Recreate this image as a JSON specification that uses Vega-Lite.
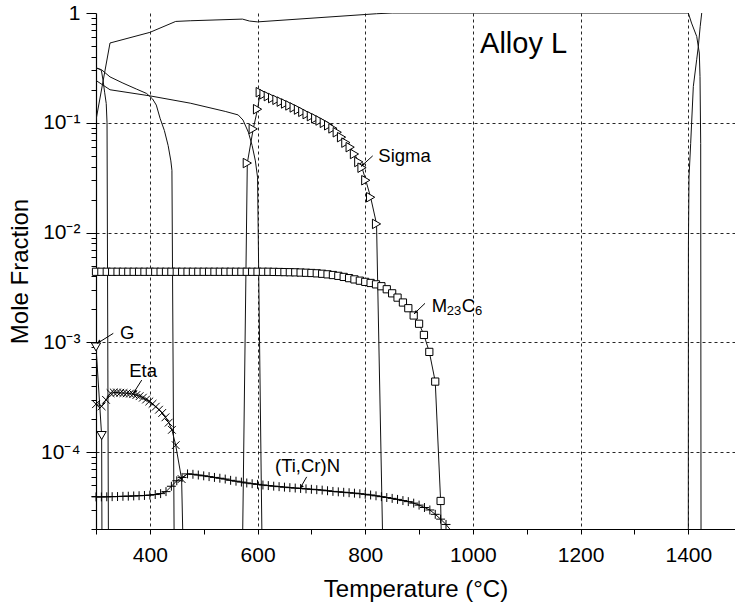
{
  "$schema": "https://vega.github.io/schema/vega-lite/v6.json",
  "width": 639,
  "height": 516,
  "autosize": {"type": "none"},
  "padding": {"left": 96, "top": 13, "right": 0, "bottom": 78},
  "background": "white",
  "config": {
    "view": {"stroke": null},
    "font": "Liberation Sans",
    "axis": {"ticks": true, "tickColor": "black", "tickWidth": 1, "tickSize": 5, "domainColor": "black", "domainWidth": 1.2, "labelColor": "black", "titleColor": "black", "titleFontWeight": "normal"}
  },
  "datasets": {
    "curves": [
      {"p":"FCC","T":300,"f":0.106},{"p":"FCC","T":326,"f":0.533},{"p":"FCC","T":400,"f":0.666},{"p":"FCC","T":448,"f":0.838},{"p":"FCC","T":475,"f":0.85},{"p":"FCC","T":572,"f":0.88},{"p":"FCC","T":585,"f":0.845},{"p":"FCC","T":600,"f":0.83},{"p":"FCC","T":821,"f":0.985},{"p":"FCC","T":850,"f":1},{"p":"FCC","T":1400,"f":1},{"p":"FCC","T":1406,"f":0.81},{"p":"FCC","T":1415.6,"f":0.612},{"p":"FCC","T":1420.4,"f":0.432},{"p":"FCC","T":1421.7,"f":0.264},{"p":"FCC","T":1423,"f":0.065},{"p":"FCC","T":1423.6,"f":2e-5},
      {"p":"Liquid","T":1400,"f":2e-5},{"p":"Liquid","T":1400.2,"f":0.0079},{"p":"Liquid","T":1401.3,"f":0.032},{"p":"Liquid","T":1404.4,"f":0.065},{"p":"Liquid","T":1409.3,"f":0.214},{"p":"Liquid","T":1415.5,"f":0.375},{"p":"Liquid","T":1418.6,"f":0.496},{"p":"Liquid","T":1422,"f":0.75},{"p":"Liquid","T":1424.9,"f":1},
      {"p":"P1","T":300,"f":0.315},{"p":"P1","T":304,"f":0.313},{"p":"P1","T":310,"f":0.3},{"p":"P1","T":313,"f":0.245},{"p":"P1","T":316,"f":0.19},{"p":"P1","T":319,"f":0.15},{"p":"P1","T":320.5,"f":0.1},{"p":"P1","T":323,"f":2e-5},
      {"p":"P2","T":300,"f":0.315},{"p":"P2","T":310,"f":0.305},{"p":"P2","T":326,"f":0.262},{"p":"P2","T":350,"f":0.23},{"p":"P2","T":375,"f":0.203},{"p":"P2","T":394,"f":0.185},{"p":"P2","T":405,"f":0.165},{"p":"P2","T":412,"f":0.145},{"p":"P2","T":419,"f":0.11},{"p":"P2","T":427,"f":0.085},{"p":"P2","T":434,"f":0.062},{"p":"P2","T":439,"f":0.045},{"p":"P2","T":441,"f":0.037},{"p":"P2","T":445,"f":2e-5},
      {"p":"P3","T":300,"f":0.243},{"p":"P3","T":326,"f":0.2},{"p":"P3","T":400,"f":0.176},{"p":"P3","T":475,"f":0.151},{"p":"P3","T":540,"f":0.127},{"p":"P3","T":564,"f":0.118},{"p":"P3","T":573,"f":0.106},{"p":"P3","T":583,"f":0.082},{"p":"P3","T":590,"f":0.062},{"p":"P3","T":596,"f":0.045},{"p":"P3","T":600,"f":0.032},{"p":"P3","T":608,"f":2e-5},
      {"p":"G","T":300,"f":0.00091},{"p":"G","T":310.5,"f":0.000142},{"p":"G","T":311,"f":2e-5},
      {"p":"Sigma","T":572.5,"f":2e-5},{"p":"Sigma","T":581,"f":0.043},{"p":"Sigma","T":592,"f":0.088},{"p":"Sigma","T":600,"f":0.133},{"p":"Sigma","T":605,"f":0.19},{"p":"Sigma","T":612,"f":0.182},{"p":"Sigma","T":620,"f":0.175},{"p":"Sigma","T":628,"f":0.168},{"p":"Sigma","T":636,"f":0.162},{"p":"Sigma","T":644,"f":0.156},{"p":"Sigma","T":652,"f":0.15},{"p":"Sigma","T":660,"f":0.144},{"p":"Sigma","T":668,"f":0.138},{"p":"Sigma","T":676,"f":0.132},{"p":"Sigma","T":684,"f":0.126},{"p":"Sigma","T":692,"f":0.12},{"p":"Sigma","T":700,"f":0.115},{"p":"Sigma","T":708,"f":0.11},{"p":"Sigma","T":716,"f":0.105},{"p":"Sigma","T":724,"f":0.1},{"p":"Sigma","T":732,"f":0.095},{"p":"Sigma","T":740,"f":0.089},{"p":"Sigma","T":748,"f":0.082},{"p":"Sigma","T":756,"f":0.074},{"p":"Sigma","T":764,"f":0.066},{"p":"Sigma","T":772,"f":0.06},{"p":"Sigma","T":780,"f":0.052},{"p":"Sigma","T":788,"f":0.044},{"p":"Sigma","T":794,"f":0.039},{"p":"Sigma","T":801,"f":0.03},{"p":"Sigma","T":810,"f":0.021},{"p":"Sigma","T":821,"f":0.012},{"p":"Sigma","T":832,"f":2e-5},
      {"p":"M23C6","T":300,"f":0.0044},{"p":"M23C6","T":310,"f":0.0044},{"p":"M23C6","T":320,"f":0.0044},{"p":"M23C6","T":330,"f":0.0044},{"p":"M23C6","T":340,"f":0.0044},{"p":"M23C6","T":350,"f":0.0044},{"p":"M23C6","T":360,"f":0.0044},{"p":"M23C6","T":370,"f":0.0044},{"p":"M23C6","T":380,"f":0.0044},{"p":"M23C6","T":390,"f":0.0044},{"p":"M23C6","T":400,"f":0.0044},{"p":"M23C6","T":410,"f":0.0044},{"p":"M23C6","T":420,"f":0.0044},{"p":"M23C6","T":430,"f":0.0044},{"p":"M23C6","T":440,"f":0.0044},{"p":"M23C6","T":450,"f":0.0044},{"p":"M23C6","T":460,"f":0.0044},{"p":"M23C6","T":470,"f":0.0044},{"p":"M23C6","T":480,"f":0.0044},{"p":"M23C6","T":490,"f":0.0044},{"p":"M23C6","T":500,"f":0.0044},{"p":"M23C6","T":510,"f":0.0044},{"p":"M23C6","T":520,"f":0.0044},{"p":"M23C6","T":530,"f":0.0044},{"p":"M23C6","T":540,"f":0.0044},{"p":"M23C6","T":550,"f":0.0044},{"p":"M23C6","T":560,"f":0.0044},{"p":"M23C6","T":570,"f":0.0044},{"p":"M23C6","T":580,"f":0.0044},{"p":"M23C6","T":590,"f":0.0044},{"p":"M23C6","T":600,"f":0.0044},{"p":"M23C6","T":610,"f":0.0044},{"p":"M23C6","T":620,"f":0.0044},{"p":"M23C6","T":630,"f":0.00439},{"p":"M23C6","T":640,"f":0.00438},{"p":"M23C6","T":650,"f":0.00437},{"p":"M23C6","T":660,"f":0.00436},{"p":"M23C6","T":670,"f":0.00435},{"p":"M23C6","T":680,"f":0.00433},{"p":"M23C6","T":690,"f":0.00431},{"p":"M23C6","T":700,"f":0.00429},{"p":"M23C6","T":710,"f":0.00426},{"p":"M23C6","T":720,"f":0.00422},{"p":"M23C6","T":730,"f":0.00417},{"p":"M23C6","T":740,"f":0.00411},{"p":"M23C6","T":750,"f":0.00404},{"p":"M23C6","T":760,"f":0.00395},{"p":"M23C6","T":770,"f":0.00385},{"p":"M23C6","T":780,"f":0.00375},{"p":"M23C6","T":790,"f":0.00365},{"p":"M23C6","T":800,"f":0.00356},{"p":"M23C6","T":810,"f":0.00348},{"p":"M23C6","T":820,"f":0.00338},{"p":"M23C6","T":830,"f":0.00325},{"p":"M23C6","T":840,"f":0.00305},{"p":"M23C6","T":850,"f":0.0028},{"p":"M23C6","T":860,"f":0.00256},{"p":"M23C6","T":870,"f":0.00231},{"p":"M23C6","T":880,"f":0.00205},{"p":"M23C6","T":890,"f":0.00176},{"p":"M23C6","T":900,"f":0.00148},{"p":"M23C6","T":909,"f":0.00117},{"p":"M23C6","T":919,"f":0.00082},{"p":"M23C6","T":930,"f":0.00044},{"p":"M23C6","T":940,"f":0.000036},{"p":"M23C6","T":941,"f":2e-5},
      {"p":"Eta","T":300,"f":0.000274},{"p":"Eta","T":310.5,"f":0.000262},{"p":"Eta","T":318.6,"f":0.0003},{"p":"Eta","T":327,"f":0.000345},{"p":"Eta","T":333,"f":0.00035},{"p":"Eta","T":339,"f":0.00035},{"p":"Eta","T":345,"f":0.000348},{"p":"Eta","T":351,"f":0.000346},{"p":"Eta","T":357,"f":0.000344},{"p":"Eta","T":363,"f":0.000342},{"p":"Eta","T":369,"f":0.000338},{"p":"Eta","T":375,"f":0.000332},{"p":"Eta","T":381,"f":0.000324},{"p":"Eta","T":387,"f":0.000314},{"p":"Eta","T":393,"f":0.000302},{"p":"Eta","T":399,"f":0.00029},{"p":"Eta","T":405,"f":0.000276},{"p":"Eta","T":411,"f":0.00026},{"p":"Eta","T":417,"f":0.000244},{"p":"Eta","T":423,"f":0.000228},{"p":"Eta","T":429,"f":0.000208},{"p":"Eta","T":435,"f":0.000186},{"p":"Eta","T":441,"f":0.00016},{"p":"Eta","T":448,"f":0.000116},{"p":"Eta","T":459,"f":0.000057},{"p":"Eta","T":461,"f":2e-5},
      {"p":"TiCrN","T":300,"f":3.92e-5},{"p":"TiCrN","T":310,"f":3.92e-5},{"p":"TiCrN","T":320,"f":3.93e-5},{"p":"TiCrN","T":330,"f":3.94e-5},{"p":"TiCrN","T":340,"f":3.95e-5},{"p":"TiCrN","T":350,"f":3.97e-5},{"p":"TiCrN","T":360,"f":3.98e-5},{"p":"TiCrN","T":370,"f":4.0e-5},{"p":"TiCrN","T":380,"f":4.02e-5},{"p":"TiCrN","T":390,"f":4.04e-5},{"p":"TiCrN","T":400,"f":4.07e-5},{"p":"TiCrN","T":410,"f":4.12e-5},{"p":"TiCrN","T":420,"f":4.2e-5},{"p":"TiCrN","T":430,"f":4.38e-5},{"p":"TiCrN","T":440,"f":4.9e-5},{"p":"TiCrN","T":450,"f":5.5e-5},{"p":"TiCrN","T":460,"f":5.9e-5},{"p":"TiCrN","T":470,"f":6.35e-5},{"p":"TiCrN","T":480,"f":6.3e-5},{"p":"TiCrN","T":490,"f":6.2e-5},{"p":"TiCrN","T":500,"f":6.1e-5},{"p":"TiCrN","T":510,"f":6.0e-5},{"p":"TiCrN","T":520,"f":5.9e-5},{"p":"TiCrN","T":530,"f":5.8e-5},{"p":"TiCrN","T":540,"f":5.7e-5},{"p":"TiCrN","T":550,"f":5.55e-5},{"p":"TiCrN","T":560,"f":5.45e-5},{"p":"TiCrN","T":570,"f":5.35e-5},{"p":"TiCrN","T":580,"f":5.25e-5},{"p":"TiCrN","T":590,"f":5.17e-5},{"p":"TiCrN","T":600,"f":5.1e-5},{"p":"TiCrN","T":610,"f":5.03e-5},{"p":"TiCrN","T":620,"f":4.97e-5},{"p":"TiCrN","T":630,"f":4.91e-5},{"p":"TiCrN","T":640,"f":4.86e-5},{"p":"TiCrN","T":650,"f":4.81e-5},{"p":"TiCrN","T":660,"f":4.76e-5},{"p":"TiCrN","T":670,"f":4.72e-5},{"p":"TiCrN","T":680,"f":4.68e-5},{"p":"TiCrN","T":690,"f":4.64e-5},{"p":"TiCrN","T":700,"f":4.6e-5},{"p":"TiCrN","T":710,"f":4.56e-5},{"p":"TiCrN","T":720,"f":4.52e-5},{"p":"TiCrN","T":730,"f":4.46e-5},{"p":"TiCrN","T":740,"f":4.4e-5},{"p":"TiCrN","T":750,"f":4.36e-5},{"p":"TiCrN","T":760,"f":4.32e-5},{"p":"TiCrN","T":770,"f":4.28e-5},{"p":"TiCrN","T":780,"f":4.24e-5},{"p":"TiCrN","T":790,"f":4.19e-5},{"p":"TiCrN","T":800,"f":4.14e-5},{"p":"TiCrN","T":810,"f":4.08e-5},{"p":"TiCrN","T":820,"f":4.01e-5},{"p":"TiCrN","T":830,"f":3.94e-5},{"p":"TiCrN","T":840,"f":3.87e-5},{"p":"TiCrN","T":850,"f":3.8e-5},{"p":"TiCrN","T":860,"f":3.72e-5},{"p":"TiCrN","T":870,"f":3.63e-5},{"p":"TiCrN","T":880,"f":3.55e-5},{"p":"TiCrN","T":890,"f":3.44e-5},{"p":"TiCrN","T":900,"f":3.3e-5},{"p":"TiCrN","T":910,"f":3.14e-5},{"p":"TiCrN","T":920,"f":2.98e-5},{"p":"TiCrN","T":930,"f":2.72e-5},{"p":"TiCrN","T":940,"f":2.46e-5},{"p":"TiCrN","T":950,"f":2.2e-5},{"p":"TiCrN","T":957,"f":2.0e-5}
    ],
    "arrows": [
      {"x1":813.9,"y1":0.05,"x2":792.1,"y2":0.04},
      {"x1":911,"y1":0.00227,"x2":890.6,"y2":0.00182},
      {"x1":384.9,"y1":0.000454,"x2":369.3,"y2":0.000344},
      {"x1":332.1,"y1":0.00121,"x2":302.4,"y2":0.00098},
      {"x1":691.3,"y1":5.97e-5,"x2":678.9,"y2":4.68e-5}
    ],
    "labels": [
      {"label":"Sigma","T":824.3,"f":0.0438},
      {"label":"M","T":923.4,"f":0.0019},
      {"label":"C","T":979.2,"f":0.0019},
      {"label":"Eta","T":361.8,"f":0.000487},
      {"label":"G","T":344.6,"f":0.00107},
      {"label":"(Ti,Cr)N","T":632.4,"f":6.63e-5}
    ],
    "subs": [
      {"label":"23","T":951.3,"f":0.00176},
      {"label":"6","T":1004,"f":0.00176}
    ],
    "title": [
      {"label":"Alloy L","T":1013.2,"f":0.432}
    ]
  },
  "layer": [
    {
      "data": {"name": "curves"},
      "mark": {"type": "line", "strokeWidth": 1, "color": "#111", "clip": true},
      "encoding": {
        "x": {
          "field": "T", "type": "quantitative",
          "scale": {"domain": [300, 1486.7], "nice": false, "zero": false},
          "axis": {
            "title": "Temperature (°C)",
            "values": [300,400,500,600,700,800,900,1000,1100,1200,1300,1400],
            "format": "d",
            "labelExpr": "datum.value % 200 == 0 ? datum.label : ''",
            "labelOverlap": false,
            "labelFlush": false,
            "labelFontSize": 21,
            "labelPadding": 10,
            "grid": true,
            "gridColor": "black",
            "gridDash": [3, 3],
            "gridOpacity": {"condition": {"test": "datum.value % 200 == 0", "value": 0.85}, "value": 0},
            "titleFontSize": 24,
            "titlePadding": 12
          }
        },
        "y": {
          "field": "f", "type": "quantitative",
          "scale": {"type": "log", "domain": [2e-5, 1], "nice": false},
          "axis": {
            "title": "Mole Fraction",
            "values": [2e-5,3e-5,4e-5,5e-5,6e-5,7e-5,8e-5,9e-5,1e-4,2e-4,3e-4,4e-4,5e-4,6e-4,7e-4,8e-4,9e-4,1e-3,2e-3,3e-3,4e-3,5e-3,6e-3,7e-3,8e-3,9e-3,1e-2,2e-2,3e-2,4e-2,5e-2,6e-2,7e-2,8e-2,9e-2,0.1,0.2,0.3,0.4,0.5,0.6,0.7,0.8,0.9,1],
            "labelExpr": "datum.value > 0.999 ? '1' : (abs(log(datum.value)/LN10 - round(log(datum.value)/LN10)) < 1e-6 ? '10⁻' + ['','¹','²','³','⁴','⁵'][-round(log(datum.value)/LN10)] : '')",
            "labelOverlap": false,
            "labelFlush": false,
            "labelFontSize": 21,
            "labelPadding": 6,
            "labelBaseline": "middle",
            "tickSize": {"condition": {"test": "abs(log(datum.value)/LN10 - round(log(datum.value)/LN10)) < 1e-6", "value": 10}, "value": 5},
            "grid": true,
            "gridColor": "black",
            "gridDash": [3, 3],
            "gridOpacity": {"condition": {"test": "datum.value < 0.999 && abs(log(datum.value)/LN10 - round(log(datum.value)/LN10)) < 1e-6", "value": 0.85}, "value": 0},
            "titleFontSize": 24,
            "titlePadding": 8
          }
        },
        "detail": {"field": "p"}
      }
    },
    {
      "mark": {"type": "rule", "color": "black", "strokeWidth": 1.2},
      "encoding": {"y": {"datum": 1, "type": "quantitative"}}
    },
    {
      "data": {"name": "curves"},
      "transform": [{"filter": "datum.p == 'M23C6' && datum.f > 2.05e-5"}],
      "mark": {"type": "point", "shape": "square", "size": 52, "fill": "white", "fillOpacity": 1, "stroke": "black", "strokeWidth": 1, "opacity": 1},
      "encoding": {"x": {"field": "T", "type": "quantitative"}, "y": {"field": "f", "type": "quantitative"}}
    },
    {
      "data": {"name": "curves"},
      "transform": [{"filter": "datum.p == 'Sigma' && datum.f > 2.05e-5"}],
      "mark": {"type": "point", "shape": "triangle-right", "size": 90, "fill": "white", "fillOpacity": 1, "stroke": "black", "strokeWidth": 1, "opacity": 1},
      "encoding": {"x": {"field": "T", "type": "quantitative"}, "y": {"field": "f", "type": "quantitative"}}
    },
    {
      "data": {"name": "curves"},
      "transform": [{"filter": "datum.p == 'G' && datum.f > 2.05e-5"}],
      "mark": {"type": "point", "shape": "triangle-down", "size": 85, "fill": "white", "fillOpacity": 1, "stroke": "black", "strokeWidth": 1, "opacity": 1},
      "encoding": {"x": {"field": "T", "type": "quantitative"}, "y": {"field": "f", "type": "quantitative"}}
    },
    {
      "data": {"name": "curves"},
      "transform": [{"filter": "datum.p == 'Eta' && datum.f > 2.05e-5"}],
      "mark": {"type": "point", "shape": "M-1,-1L1,1M-1,1L1,-1", "size": 60, "filled": false, "stroke": "black", "strokeWidth": 1, "opacity": 1},
      "encoding": {"x": {"field": "T", "type": "quantitative"}, "y": {"field": "f", "type": "quantitative"}}
    },
    {
      "data": {"name": "curves"},
      "transform": [{"filter": "datum.p == 'TiCrN' && datum.f > 2.05e-5"}],
      "mark": {"type": "point", "shape": "M-1,0L1,0M0,-1L0,1", "size": 80, "filled": false, "stroke": "black", "strokeWidth": 1, "opacity": 1},
      "encoding": {"x": {"field": "T", "type": "quantitative"}, "y": {"field": "f", "type": "quantitative"}}
    },
    {
      "data": {"name": "arrows"},
      "mark": {"type": "rule", "color": "black", "strokeWidth": 1},
      "encoding": {
        "x": {"field": "x1", "type": "quantitative"},
        "y": {"field": "y1", "type": "quantitative"},
        "x2": {"field": "x2"},
        "y2": {"field": "y2"}
      }
    },
    {
      "data": {"name": "arrows"},
      "mark": {"type": "point", "shape": "M0,0L-0.7,2L0.7,2Z", "angle": 225, "size": 16, "filled": true, "color": "black", "opacity": 1},
      "encoding": {
        "x": {"field": "x2", "type": "quantitative"},
        "y": {"field": "y2", "type": "quantitative"}
      }
    },
    {
      "data": {"name": "labels"},
      "mark": {"type": "text", "align": "left", "baseline": "alphabetic", "fontSize": 18.5, "color": "black"},
      "encoding": {
        "x": {"field": "T", "type": "quantitative"},
        "y": {"field": "f", "type": "quantitative"},
        "text": {"field": "label"}
      }
    },
    {
      "data": {"name": "subs"},
      "mark": {"type": "text", "align": "left", "baseline": "alphabetic", "fontSize": 13, "color": "black"},
      "encoding": {
        "x": {"field": "T", "type": "quantitative"},
        "y": {"field": "f", "type": "quantitative"},
        "text": {"field": "label"}
      }
    },
    {
      "data": {"name": "title"},
      "mark": {"type": "text", "align": "left", "baseline": "alphabetic", "fontSize": 29, "color": "black"},
      "encoding": {
        "x": {"field": "T", "type": "quantitative"},
        "y": {"field": "f", "type": "quantitative"},
        "text": {"field": "label"}
      }
    }
  ]
}
